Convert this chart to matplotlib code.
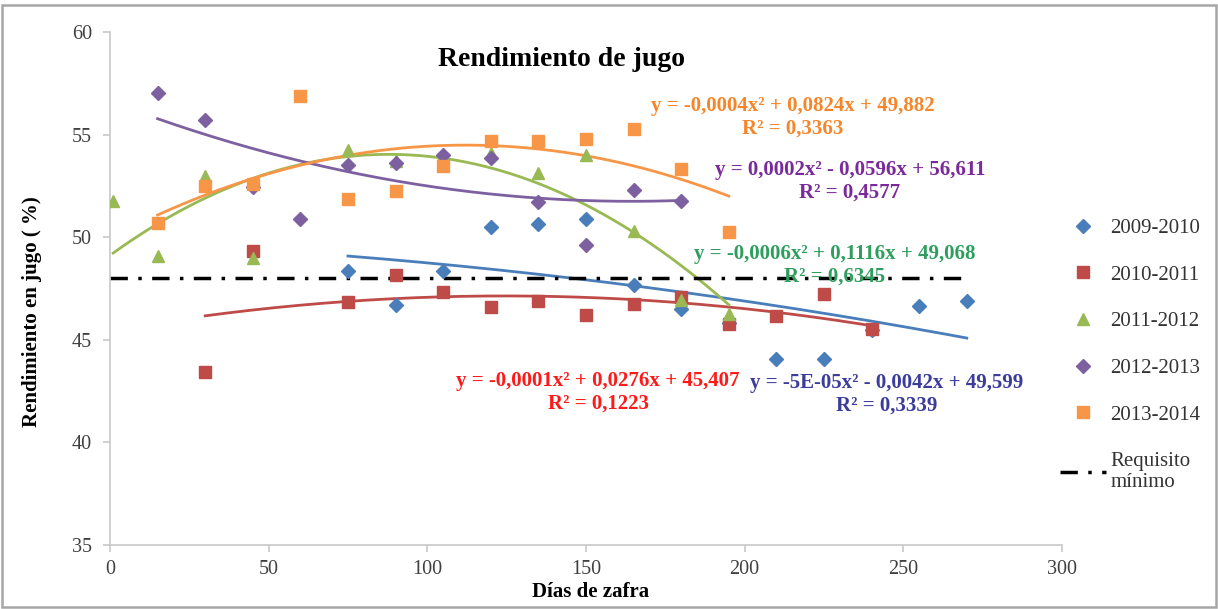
import numpy as np
import matplotlib
matplotlib.use("Agg")
import matplotlib.pyplot as plt
from matplotlib.patches import Rectangle

plt.rcParams['font.family'] = ['Liberation Serif', 'DejaVu Serif']

# ---- data ----
x_0910 = [75, 90, 105, 120, 135, 150, 165, 180, 195, 210, 225, 240, 255, 270]
y_0910 = [48.36, 46.7, 48.36, 50.5, 50.66, 50.87, 47.68, 46.5, 45.8, 44.08, 44.08, 45.5, 46.64, 46.88]

x_1011 = [30, 45, 75, 90, 105, 120, 135, 150, 165, 180, 195, 210, 225, 240]
y_1011 = [43.45, 49.33, 46.86, 48.15, 47.34, 46.58, 46.88, 46.21, 46.75, 47.07, 45.78, 46.18, 47.23, 45.53]

x_1112 = [1, 15, 30, 45, 75, 90, 105, 120, 135, 150, 165, 180, 195]
y_1112 = [51.76, 49.1, 52.97, 49.0, 54.27, 53.7, 54.0, 54.1, 53.14, 54.03, 50.31, 46.95, 46.26]

x_1213 = [15, 30, 45, 60, 75, 90, 105, 120, 135, 150, 165, 180]
y_1213 = [57.05, 55.73, 52.45, 50.9, 53.5, 53.6, 54.0, 53.87, 51.72, 49.61, 52.28, 51.76]

x_1314 = [15, 30, 45, 60, 75, 90, 105, 120, 135, 150, 165, 180, 195]
y_1314 = [50.68, 52.5, 52.6, 56.9, 51.88, 52.25, 53.46, 54.7, 54.7, 54.79, 55.28, 53.3, 50.26]

series_names = ["2009-2010", "2010-2011", "2011-2012", "2012-2013", "2013-2014"]
requisito_x = [0, 270]
requisito_y = [48, 48]

equations = [
    "y = -5E-05x² - 0,0042x + 49,599\nR² = 0,3339",
    "y = -0,0001x² + 0,0276x + 45,407\nR² = 0,1223",
    "y = -0,0006x² + 0,1116x + 49,068\nR² = 0,6345",
    "y = 0,0002x² - 0,0596x + 56,611\nR² = 0,4577",
    "y = -0,0004x² + 0,0824x + 49,882\nR² = 0,3363",
]

# ---- styles ----
colors = ["#4a7ebb", "#be4b48", "#98b954", "#7d60a0", "#f79646"]
markers = ["D", "s", "^", "D", "s"]
msizes = [7.5, 9, 9, 7.5, 9]
eq_colors = ["#3c3c9c", "#ff1a1a", "#2e9e5e", "#7a2a9a", "#f7862a"]
eq_pos = [(887, 394), (598, 392), (835, 265), (850, 181), (793, 117)]

W, H = 1218, 609
fig = plt.figure(figsize=(W / 100, H / 100), dpi=100)
ax = fig.add_axes([110 / W, 1 - 545 / H, (1062 - 110) / W, (545 - 32) / H])

xs = [x_0910, x_1011, x_1112, x_1213, x_1314]
ys = [y_0910, y_1011, y_1112, y_1213, y_1314]

handles = []
for i in range(5):
    x = np.array(xs[i], dtype=float)
    y = np.array(ys[i], dtype=float)
    h, = ax.plot(x, y, linestyle='none', marker=markers[i], ms=msizes[i],
                 color=colors[i], mec=colors[i], zorder=3, label=series_names[i])
    handles.append(h)
    c = np.polyfit(x, y, 2)
    xx = np.linspace(x.min(), x.max(), 200)
    ax.plot(xx, np.polyval(c, xx), color=colors[i], lw=2.0, zorder=2)

req, = ax.plot(requisito_x, requisito_y, color='black', lw=2.5,
               linestyle=(0, (5, 3, 1, 3)), zorder=2.5, label="Requisito\nmínimo")
handles.append(req)

for i in range(5):
    px, py = eq_pos[i]
    fig.text(px / W, 1 - py / H, equations[i], color=eq_colors[i], fontsize=15,
             fontweight='bold', ha='center', va='center', linespacing=1.15)

ax.set_xlim(0, 300)
ax.set_ylim(35, 60)
ax.set_xticks([0, 50, 100, 150, 200, 250, 300])
ax.set_yticks([35, 40, 45, 50, 55, 60])
for s in ['top', 'right']:
    ax.spines[s].set_visible(False)
for s in ['left', 'bottom']:
    ax.spines[s].set_color('#c8c8c8')
    ax.spines[s].set_linewidth(1.2)
ax.tick_params(axis='both', colors='#c8c8c8', labelcolor='#404040',
               labelsize=14.5, length=5, width=1.2, direction='out')
ax.tick_params(axis='y', pad=8)
ax.tick_params(axis='x', pad=6)

fig.text(562 / W, 1 - 60 / H, "Rendimiento de jugo", fontsize=20,
         fontweight='bold', ha='center', va='center', color='black')
fig.text(32 / W, 1 - 312 / H, "Rendimiento en jugo ( %)", fontsize=15,
         fontweight='bold', ha='center', va='center', rotation=90)
fig.text(591 / W, 1 - 592 / H, "Días de zafra", fontsize=15,
         fontweight='bold', ha='center', va='center')

leg = fig.legend(handles=handles, loc='upper left',
                 bbox_to_anchor=(1052 / W, 1 - 210 / H), frameon=False,
                 fontsize=15, labelspacing=1.3, handlelength=2.2,
                 handletextpad=0.2, borderaxespad=0)
for t in leg.get_texts():
    t.set_color('#333333')

fig.patches.append(Rectangle((2 / W, 2 / H), (W - 4) / W, (H - 7) / H,
                             transform=fig.transFigure, fill=False,
                             ec='#a6a6a6', lw=1.8))

fig.savefig("out.png", dpi=100, facecolor='white')
